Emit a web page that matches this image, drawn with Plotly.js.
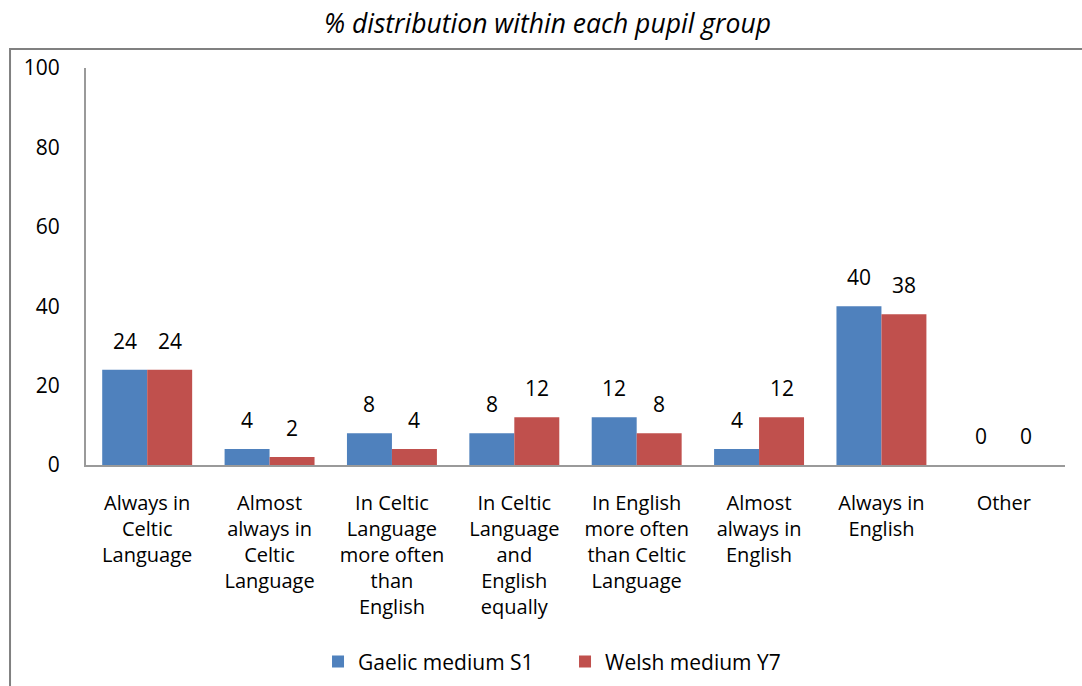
<!DOCTYPE html>
<html>
<head>
<meta charset="utf-8">
<script src="https://cdn.plot.ly/plotly-3.0.1.min.js"></script>
<style>html,body{margin:0;padding:0;background:#fff;}#chart{width:1082px;height:686px;}</style>
</head>
<body>
<div id="chart"></div>
<script>
const categories = [
  "Always in<br>Celtic<br>Language",
  "Almost<br>always in<br>Celtic<br>Language",
  "In Celtic<br>Language<br>more often<br>than<br>English",
  "In Celtic<br>Language<br>and<br>English<br>equally",
  "In English<br>more often<br>than Celtic<br>Language",
  "Almost<br>always in<br>English",
  "Always in<br>English",
  "Other"
];
const seriesNames = ["Gaelic medium S1", "Welsh medium Y7"];
const gaelicS1 = [24, 4, 8, 8, 12, 4, 40, 0];
const welshY7 = [24, 2, 4, 12, 8, 12, 38, 0];
const yTicks = [0, 20, 40, 60, 80, 100];

const FONT = "'Open Sans', Lato, sans-serif";
const colors = ["#4F81BD", "#C0504D"];
const allSeries = [gaelicS1, welshY7];

const traces = allSeries.map((vals, i) => ({
  type: "bar",
  name: seriesNames[i],
  x: categories,
  y: vals,
  marker: {color: colors[i], line: {width: 0}},
  hoverinfo: "x+y+name"
}));

const annotations = [];
allSeries.forEach((vals, i) => {
  vals.forEach((v, j) => {
    annotations.push({
      x: categories[j], y: v, xref: "x", yref: "y",
      text: String(v), showarrow: false,
      xshift: (i === 0 ? -22.5 : 22.5), yshift: 13,
      yanchor: "bottom",
      font: {family: FONT, size: 21, color: "#000"}
    });
  });
});

const layout = {
  width: 1082, height: 686,
  paper_bgcolor: "#fff", plot_bgcolor: "#fff",
  margin: {l: 86, r: 17, t: 68, b: 221, autoexpand: false},
  font: {family: FONT, size: 20, color: "#000"},
  title: {
    text: "<i>% distribution within each pupil group</i>",
    font: {family: FONT, size: 26.5, color: "#000"},
    x: 0.506, xref: "container", xanchor: "center",
    y: 0.966, yref: "container", yanchor: "middle"
  },
  barmode: "group",
  bargap: 0.265,
  bargroupgap: 0,
  xaxis: {
    type: "category",
    showgrid: false, zeroline: false,
    showline: true, linecolor: "#9a9a9a", linewidth: 2,
    ticks: "", ticklabelstandoff: 19,
    tickfont: {family: FONT, size: 20, color: "#000"},
    tickangle: 0, automargin: false
  },
  yaxis: {
    range: [0, 100],
    tickvals: yTicks,
    showgrid: false, zeroline: false,
    showline: true, linecolor: "#9a9a9a", linewidth: 2,
    ticks: "", ticklabelstandoff: 20,
    tickfont: {family: FONT, size: 21, color: "#000"},
    automargin: false
  },
  legend: {
    orientation: "h",
    x: 0.237, xanchor: "left",
    y: -0.496, yanchor: "middle",
    font: {family: FONT, size: 21, color: "#000"},
    itemwidth: 30,
    entrywidth: 202
  },
  annotations: annotations,
  shapes: [{
    type: "rect", xref: "paper", yref: "paper",
    x0: -0.0776, x1: 1.05, y0: -0.6, y1: 1.048,
    line: {color: "#808080", width: 2}, fillcolor: "rgba(0,0,0,0)", layer: "below"
  }],
  showlegend: true
};

Plotly.newPlot("chart", traces, layout, {displayModeBar: false, staticPlot: true});
</script>
</body>
</html>
